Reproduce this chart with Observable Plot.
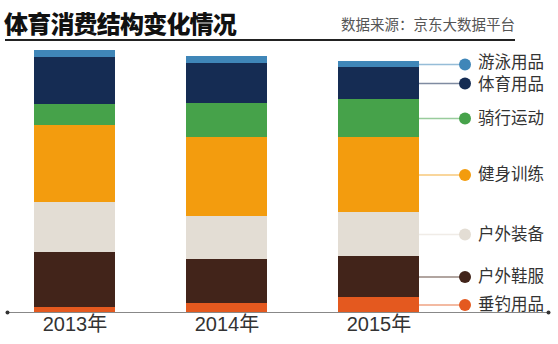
<!DOCTYPE html>
<html>
<head>
<meta charset="utf-8">
<script src="https://cdn.jsdelivr.net/npm/d3@7"></script>
<script src="https://cdn.jsdelivr.net/npm/@observablehq/plot@0.6"></script>
<style>
  body { margin: 0; background: #fff; font-family: "Liberation Sans", "Noto Sans CJK SC", sans-serif; }
  #wrap { width: 558px; height: 344px; position: relative; overflow: hidden; }
  #head { position: relative; width: 558px; height: 42px; }
  #title { position: absolute; left: 4px; top: 5px; font-size: 24px; font-weight: 900; color: #111; font-family: "Noto Sans CJK SC", sans-serif; letter-spacing: -0.8px; }
  #source { position: absolute; right: 43px; top: 13px; font-size: 14.5px; color: #555; font-family: "Noto Sans CJK SC", sans-serif; }
  #rule { position: absolute; left: 5px; top: 39px; width: 510px; height: 2px; background: #222; }
</style>
</head>
<body>
<div id="wrap">
  <div id="head">
    <div id="title">体育消费结构变化情况</div>
    <div id="source">数据来源：京东大数据平台</div>
    <div id="rule"></div>
  </div>
  <div id="chart"></div>
</div>
<script>
const years = ["2013", "2014", "2015"];
const categories = ["垂钓用品", "户外鞋服", "户外装备", "健身训练", "骑行运动", "体育用品", "游泳用品"];
const colors = ["#e4591f", "#42241a", "#e3ddd4", "#f39c0e", "#46a24a", "#152c53", "#3f86b8"];
const fishing  = [5, 9, 15];
const apparel  = [55, 44, 41];
const gear     = [50, 43, 44];
const fitness  = [77, 79, 75];
const cycling  = [21, 34, 38];
const sports   = [47, 40, 32];
const swimming = [7, 7, 6];

const seriesValues = [fishing, apparel, gear, fitness, cycling, sports, swimming];
const data = [];
years.forEach((year, i) => {
  categories.forEach((cat, j) => {
    data.push({year, cat, value: seriesValues[j][i]});
  });
});
const last = data.filter(d => d.year === years[years.length - 1]);
const topCat = categories[categories.length - 1];
const secondCat = categories[categories.length - 2];
const textOpts = {x: "year", y: "value", text: "cat", dx: 99, textAnchor: "start", fontSize: 16.5, fill: "#333", fontFamily: "'Noto Sans CJK SC', sans-serif"};

const chart = Plot.plot({
  width: 558,
  height: 302,
  marginTop: 8,
  marginBottom: 32,
  marginLeft: 33,
  marginRight: 137,
  style: {fontFamily: "'Liberation Sans', 'Noto Sans CJK SC', sans-serif", background: "#fff"},
  x: {domain: years, paddingInner: 0.464, paddingOuter: 0, tickSize: 0, tickPadding: 4, tickFormat: d => d + "年", label: null},
  y: {domain: [0, 262], axis: null},
  color: {domain: categories, range: colors},
  marks: [
    Plot.tickY(last, Plot.stackY({x: "year", y: "value", stroke: "cat", strokeOpacity: 0.55, strokeWidth: 1.5, dx: 45})),
    Plot.barY(data, {x: "year", y: "value", fill: "cat"}),
    Plot.ruleY([0], {stroke: "#888", strokeWidth: 1, insetLeft: -26, insetRight: -127}),
    Plot.dot([0], {y: d => d, frameAnchor: "left", dx: -26, r: 2, fill: "#333", stroke: null}),
    Plot.dot([0], {y: d => d, frameAnchor: "right", dx: 127, r: 2, fill: "#333", stroke: null}),
    Plot.dot(last, Plot.stackY({x: "year", y: "value", fill: "cat", r: 6, dx: 86})),
    Plot.text(last, Plot.filter(d => d.cat !== topCat && d.cat !== secondCat, Plot.stackY({...textOpts}))),
    Plot.text(last, Plot.filter(d => d.cat === topCat, Plot.stackY({...textOpts, dy: -1.5}))),
    Plot.text(last, Plot.filter(d => d.cat === secondCat, Plot.stackY({...textOpts, dy: 1.5})))
  ]
});
const xa = chart.querySelector("[aria-label='x-axis tick label']") || chart.querySelector("g[aria-label='x-axis']");
if (xa) { xa.setAttribute("font-size", "20"); xa.setAttribute("fill", "#333"); }
document.getElementById("chart").appendChild(chart);
</script>
</body>
</html>
